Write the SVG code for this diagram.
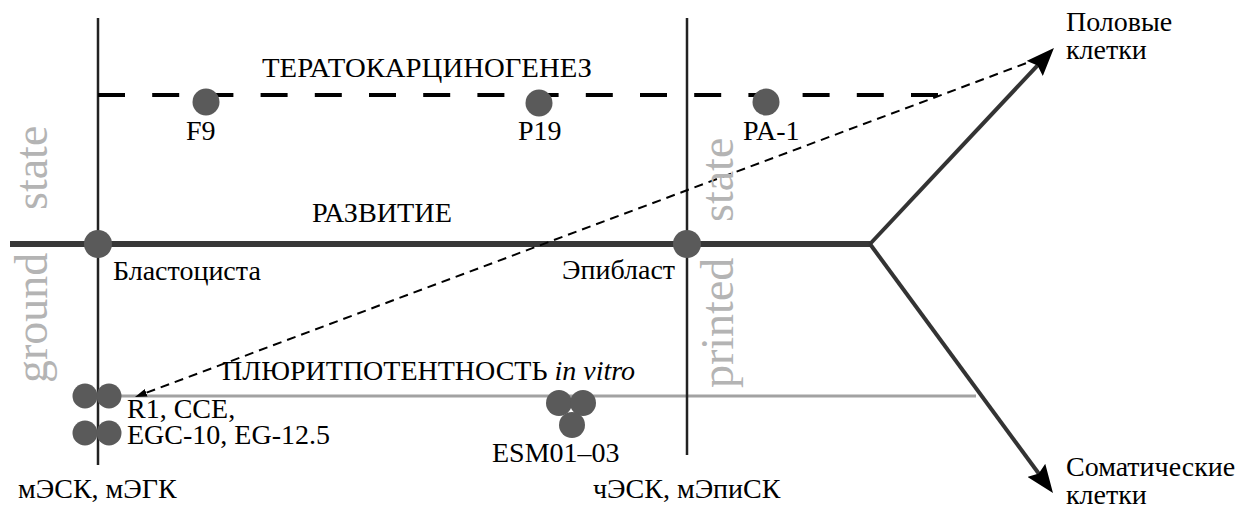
<svg xmlns="http://www.w3.org/2000/svg" width="1236" height="509" viewBox="0 0 1236 509">
<style>
.t{font-family:'Liberation Serif','DejaVu Serif',serif;font-size:28px;fill:#000}
.r{font-family:'Liberation Serif','DejaVu Serif',serif;font-size:46px;fill:#b4b4b4}
.dot{fill:#5a5a5a}
.axis{stroke:#222;stroke-width:2.5;fill:none}
</style>
<defs>
<marker id="big" markerUnits="userSpaceOnUse" viewBox="0 0 28 22" refX="12" refY="11" markerWidth="28" markerHeight="22" orient="auto">
<path d="M0,0 L28,11 L0,22 L4,11 z" fill="#000"/>
</marker>
<marker id="small" markerUnits="userSpaceOnUse" viewBox="0 0 12 8" refX="6" refY="4" markerWidth="12" markerHeight="8" orient="auto">
<path d="M0,0 L12,4 L0,8 z" fill="#000"/>
</marker>
</defs>
<g id="connectors">
<line x1="110" y1="396" x2="976" y2="396" stroke="#a2a2a2" stroke-width="3"/>
<line class="axis" x1="98" y1="18" x2="98" y2="465"/>
<line class="axis" x1="687" y1="18" x2="687" y2="455"/>
<line x1="98" y1="95" x2="941" y2="95" stroke="#000" stroke-width="4" stroke-dasharray="27 27.2"/>
<line x1="10" y1="244" x2="870" y2="244" stroke="#383838" stroke-width="6"/>
<path d="M870,244 L1043,59.6" stroke="#333" stroke-width="4" fill="none" marker-end="url(#big)"/>
<path d="M870,244 L1043.5,480" stroke="#333" stroke-width="4" fill="none" marker-end="url(#big)"/>
<path d="M1040,58 L140.6,394.9" stroke="#000" stroke-width="2" stroke-dasharray="9 6" fill="none" marker-end="url(#small)"/>
</g>
<g id="labels-rot">
<text class="r" transform="translate(47,210) rotate(-90)">state</text>
<text class="r" transform="translate(47,383) rotate(-90)">ground</text>
<text class="r" transform="translate(733,222) rotate(-90)">state</text>
<text class="r" transform="translate(733,388) rotate(-90)">printed</text>
</g>
<g id="teratocarcinogenesis">
<text class="t" x="262" y="77" textLength="330" lengthAdjust="spacingAndGlyphs">ТЕРАТОКАРЦИНОГЕНЕЗ</text>
</g>
<g id="F9"><circle class="dot" cx="206" cy="102" r="13.5"/><text class="t" x="186" y="140">F9</text></g>
<g id="P19"><circle class="dot" cx="539" cy="103" r="13.5"/><text class="t" x="518" y="140">P19</text></g>
<g id="PA-1"><circle class="dot" cx="766" cy="102" r="13.5"/><text class="t" x="743" y="140">PA-1</text></g>
<g id="development"><text class="t" x="312" y="222" textLength="140" lengthAdjust="spacingAndGlyphs">РАЗВИТИЕ</text></g>
<g id="blastocyst"><circle class="dot" cx="98" cy="244" r="14"/><text class="t" x="113" y="280">Бластоциста</text></g>
<g id="epiblast"><circle class="dot" cx="687" cy="244" r="14"/><text class="t" x="562" y="279">Эпибласт</text></g>
<g id="pluripotency"><text class="t" x="222" y="380">ПЛЮРИТПОТЕНТНОСТЬ <tspan font-style="italic">in vitro</tspan></text></g>
<g id="mESC">
<circle class="dot" cx="85" cy="396" r="12.5"/><circle class="dot" cx="109" cy="396" r="12.5"/>
<circle class="dot" cx="85" cy="433" r="12.5"/><circle class="dot" cx="109" cy="433" r="12.5"/>
<text class="t" x="127" y="418">R1, CCE,</text>
<text class="t" x="127" y="444">EGC-10, EG-12.5</text>
<text class="t" x="18" y="498">мЭСК, мЭГК</text>
</g>
<g id="hESC">
<circle class="dot" cx="559" cy="403" r="13"/><circle class="dot" cx="583" cy="403" r="13"/><circle class="dot" cx="572" cy="425" r="13"/>
<text class="t" x="492" y="462">ESM01–03</text>
<text class="t" x="593" y="498">чЭСК, мЭпиСК</text>
</g>
<g id="germ"><text class="t" x="1066" y="31">Половые</text><text class="t" x="1066" y="59">клетки</text></g>
<g id="somatic"><text class="t" x="1066" y="476">Соматические</text><text class="t" x="1066" y="504">клетки</text></g>
</svg>
